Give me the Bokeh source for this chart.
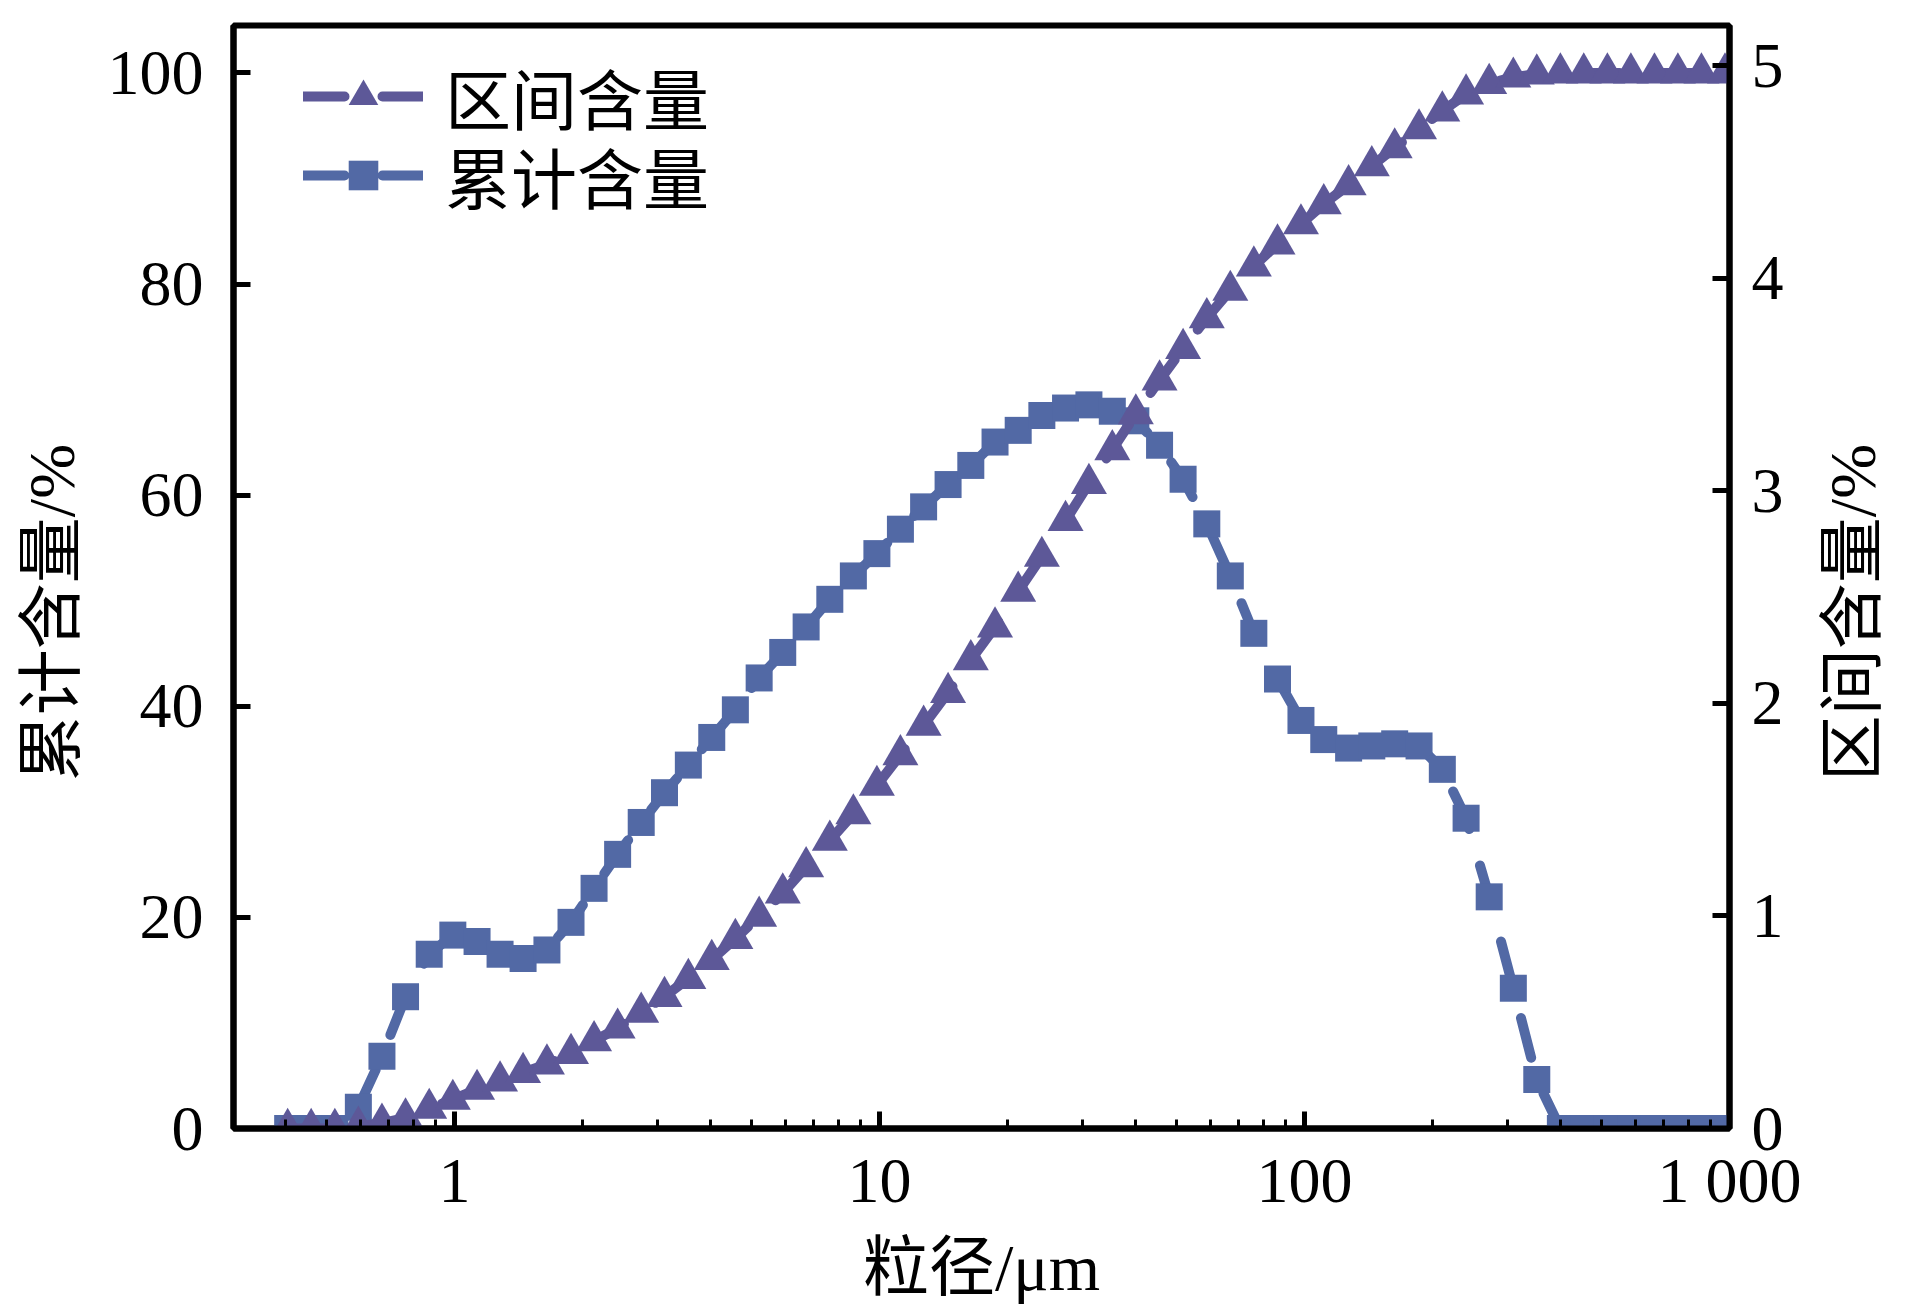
import math
from bokeh.plotting import figure
from bokeh.layouts import row
from bokeh.models import Range1d, LinearAxis, FixedTicker, Legend, LegendItem, Label
from bokeh.embed import file_html
from bokeh.resources import INLINE

# ---- data ----
sizes = [0.405, 0.46, 0.523, 0.594, 0.675, 0.767, 0.872, 0.991, 1.13, 1.28,
         1.45, 1.65, 1.88, 2.13, 2.42, 2.75, 3.12, 3.55, 4.03, 4.58,
         5.21, 5.92, 6.72, 7.64, 8.68, 9.86, 11.2, 12.7, 14.5, 16.4,
         18.7, 21.2, 24.1, 27.4, 31.1, 35.3, 40.1, 45.6, 51.8, 58.9,
         66.9, 76.0, 86.4, 98.1, 111, 127, 144, 163, 186, 211,
         240, 272, 310, 352, 400, 454, 516, 586, 666, 756,
         859, 976]

# triangles (legend: 区间含量), left axis
tri_values = [0.0, 0.0, 0.0, 0.2, 0.5, 1.0, 1.9, 2.75, 3.7, 4.5,
              5.3, 6.1, 7.1, 8.3, 9.5, 11.0, 12.5, 14.2, 16.0, 18.0,
              20.1, 22.3, 24.8, 27.3, 29.8, 32.5, 35.4, 38.2, 41.3, 44.4,
              47.5, 50.9, 54.2, 57.6, 61.1, 64.3, 67.7, 70.9, 73.9, 76.8,
              79.4, 81.7, 83.8, 85.7, 87.6, 89.4, 91.2, 92.9, 94.7, 96.4,
              98.0, 99.0, 99.6, 99.9, 100, 100, 100, 100, 100, 100,
              100, 100]

# squares (legend: 累计含量), right axis
sq_values = [0.0, 0.0, 0.0, 0.10, 0.34, 0.62, 0.82, 0.91, 0.88, 0.82,
             0.80, 0.84, 0.97, 1.13, 1.29, 1.44, 1.58, 1.71, 1.84, 1.97,
             2.12, 2.24, 2.36, 2.49, 2.60, 2.705, 2.82, 2.925, 3.03, 3.12,
             3.23, 3.285, 3.355, 3.39, 3.405, 3.375, 3.33, 3.215, 3.055, 2.845,
             2.60, 2.33, 2.115, 1.92, 1.83, 1.79, 1.80, 1.81, 1.80, 1.69,
             1.46, 1.09, 0.66, 0.23, 0.0, 0.0, 0.0, 0.0, 0.0, 0.0,
             0.0, 0.0]

x_ticks = [1, 10, 100, 1000]
x_tick_labels = ["1", "10", "100", "1 000"]
x_minor_ticks = [0.4, 0.5, 0.6, 0.7, 0.8, 0.9,
                 2, 3, 4, 5, 6, 7, 8, 9,
                 20, 30, 40, 50, 60, 70, 80, 90,
                 200, 300, 400, 500, 600, 700, 800, 900]
left_ticks = [0, 20, 40, 60, 80, 100]
right_ticks = [0, 1, 2, 3, 4, 5]

tri_label = "区间含量"
sq_label = "累计含量"
x_title = "粒径/μm"
left_title = "累计含量/%"
right_title = "区间含量/%"

TRI_COLOR = "#5d5898"
SQ_COLOR = "#5269a5"
SERIF = "Liberation Serif"
MIXED = "Liberation Serif, Noto Sans CJK SC"
FS = "66px"
H = 1300

p = figure(x_axis_type="log", x_range=Range1d(0.302, 1000), y_range=Range1d(0, 104.5),
           frame_width=1496, frame_height=1103,
           min_border_left=133, min_border_top=25, min_border_right=80, min_border_bottom=172,
           output_backend="svg", toolbar_location=None)
p.extra_y_ranges = {"right": Range1d(0, 5.19)}

p.background_fill_color = "white"
p.border_fill_color = "white"
p.xgrid.visible = False
p.ygrid.visible = False
p.outline_line_color = "black"
p.outline_line_width = 6
p.outline_line_alpha = 1.0


def style_axis(ax, standoff):
    ax.axis_line_width = 6
    ax.axis_line_color = "black"
    ax.major_tick_in = 17
    ax.major_tick_out = 0
    ax.major_tick_line_width = 5
    ax.minor_tick_in = 9
    ax.minor_tick_out = 0
    ax.minor_tick_line_width = 3
    ax.major_label_text_font = SERIF
    ax.major_label_text_font_size = "64px"
    ax.major_label_text_color = "black"
    ax.major_label_standoff = standoff
    ax.axis_label_text_font = MIXED
    ax.axis_label_text_font_size = FS
    ax.axis_label_text_font_style = "normal"
    ax.axis_label_text_color = "black"


# bottom axis
xax = p.xaxis[0]
xax.ticker = FixedTicker(ticks=x_ticks, minor_ticks=x_minor_ticks)
xax.major_label_overrides = {t: lab for t, lab in zip(x_ticks, x_tick_labels)}
style_axis(xax, 16)
xax.axis_label = x_title
xax.axis_label_standoff = 12

# left axis
yax = p.yaxis[0]
yax.ticker = FixedTicker(ticks=left_ticks, minor_ticks=[])
style_axis(yax, 30)

# right axis
rax = LinearAxis(y_range_name="right", ticker=FixedTicker(ticks=right_ticks, minor_ticks=[]))
style_axis(rax, 22)
p.add_layout(rax, "right")

# series: squares (right axis) first, triangles on top
sq_line = p.line(sizes, sq_values, y_range_name="right", line_color=SQ_COLOR, line_width=10,
                 line_dash="41 38", line_cap="round")
sq_pts = p.scatter(sizes, sq_values, y_range_name="right", marker="square", size=27,
                   fill_color=SQ_COLOR, line_alpha=0)
tri_line = p.line(sizes, tri_values, line_color=TRI_COLOR, line_width=10,
                  line_dash="41 38", line_cap="round")
tri_pts = p.scatter(sizes, tri_values, marker="triangle", size=36,
                    fill_color=TRI_COLOR, line_alpha=0)

legend_kw = dict(orientation="vertical", glyph_width=120, glyph_height=74, label_height=74,
                 spacing=0, padding=0, margin=0, label_standoff=22,
                 border_line_alpha=0, background_fill_alpha=0,
                 label_text_font=MIXED, label_text_font_size=FS, label_text_color="black",
                 label_text_baseline="middle")
leg1 = Legend(items=[LegendItem(label=tri_label, renderers=[tri_line, tri_pts])],
              location=(70, 984), **legend_kw)
leg2 = Legend(items=[LegendItem(label=sq_label, renderers=[sq_line, sq_pts])],
              location=(70, 905), **legend_kw)
p.add_layout(leg1, "center")
p.add_layout(leg2, "center")


# narrow side panels carrying the two vertical axis titles (reading bottom-to-top)
def title_strip(width, text, cx):
    q = figure(frame_width=width, frame_height=H, x_range=Range1d(0, width), y_range=Range1d(0, H),
               min_border=0, x_axis_location=None, y_axis_location=None,
               output_backend="svg", toolbar_location=None)
    q.outline_line_color = None
    q.xgrid.visible = False
    q.ygrid.visible = False
    q.background_fill_color = "white"
    q.border_fill_color = "white"
    q.add_layout(Label(x=cx, y=H - 587, text=text, angle=math.pi / 2,
                       text_align="center", text_baseline="middle",
                       text_font=MIXED, text_font_size=FS, text_color="black"))
    return q


ql = title_strip(100, left_title, 51)
qr = title_strip(90, right_title, 43)

layout = row(ql, p, qr, spacing=0)
open("out.html", "w").write(file_html(layout, INLINE))
